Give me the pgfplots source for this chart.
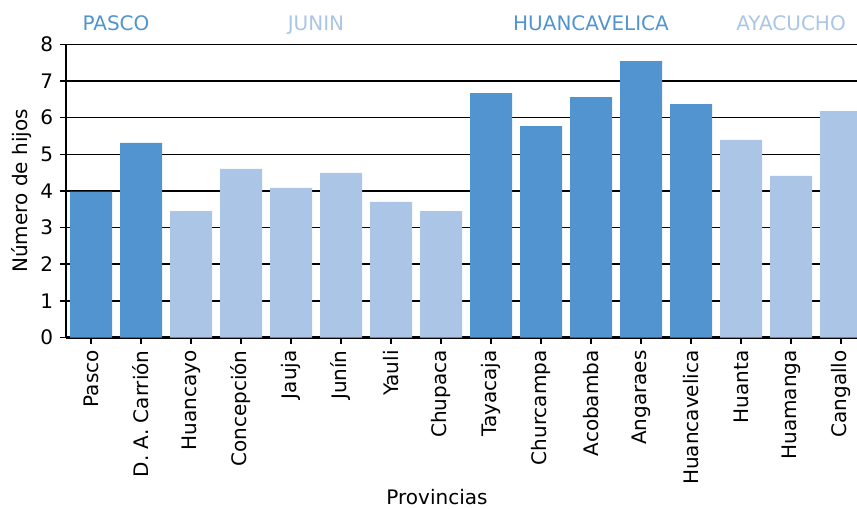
\documentclass[border=0pt]{standalone}
\usepackage{pgfplots}
\pgfplotsset{compat=1.18}
\usepackage{fontspec}
\setmainfont{DejaVu Sans}
\definecolor{dark}{HTML}{5294CF}
\definecolor{light}{HTML}{AAC5E5}
\newcommand{\fs}{\fontsize{20bp}{24bp}\selectfont}
\begin{document}
\fs
\begin{tikzpicture}
\begin{axis}[
  at={(0,0)}, anchor=south west,
  scale only axis, width=791bp, height=293.2bp,
  xmin=-0.5, xmax=15.32, ymin=0, ymax=8,
  set layers,
  axis x line*=bottom, axis y line*=left,
  axis line style={line width=2.2bp, black, /pgfplots/on layer=axis foreground},
  ytick={0,...,8}, ymajorgrids,
  grid style={black, line width=1.4bp},
  xtick={0,...,15},
  xticklabels={Pasco,D. A. Carrión,Huancayo,Concepción,Jauja,Junín,Yauli,Chupaca,Tayacaja,Churcampa,Acobamba,Angaraes,Huancavelica,Huanta,Huamanga,Cangallo},
  xticklabel style={rotate=90, anchor=east, font=\fs},
  yticklabel style={font=\fs},
  tick align=outside, major tick length=6bp,
  tick style={black, line width=1.4bp},
  /pgf/number format/assume math mode=true,
  ybar, bar width=42bp, bar shift=0pt,
  clip mode=individual,
  ylabel={Número de hijos},
  ylabel style={at={(axis cs:-1.38,4)}, anchor=center, font=\fs},
  xlabel={Provincias},
  xlabel style={at={(axis cs:6.92,0)}, anchor=center, yshift=-160bp, font=\fs},
]
\addplot[fill=dark, draw=none] coordinates {(0,3.98) (1,5.31) (8,6.67) (9,5.77) (10,6.56) (11,7.54) (12,6.37)};
\addplot[fill=light, draw=none] coordinates {(2,3.45) (3,4.60) (4,4.08) (5,4.49) (6,3.70) (7,3.45) (13,5.39) (14,4.41) (15,6.18)};
\node[text=dark, font=\fs, anchor=base] at (axis cs:0.5,8) [yshift=13.3bp] {PASCO};
\node[text=light, font=\fs, anchor=base] at (axis cs:4.5,8) [yshift=13.3bp] {JUNIN};
\node[text=dark, font=\fs, anchor=base] at (axis cs:10,8) [yshift=13.3bp] {HUANCAVELICA};
\node[text=light, font=\fs, anchor=base] at (axis cs:14,8) [yshift=13.3bp] {AYACUCHO};
\end{axis}
\pgfresetboundingbox
\path (-66bp,-171.5bp) rectangle (791bp,337.5bp);
\end{tikzpicture}
\end{document}
